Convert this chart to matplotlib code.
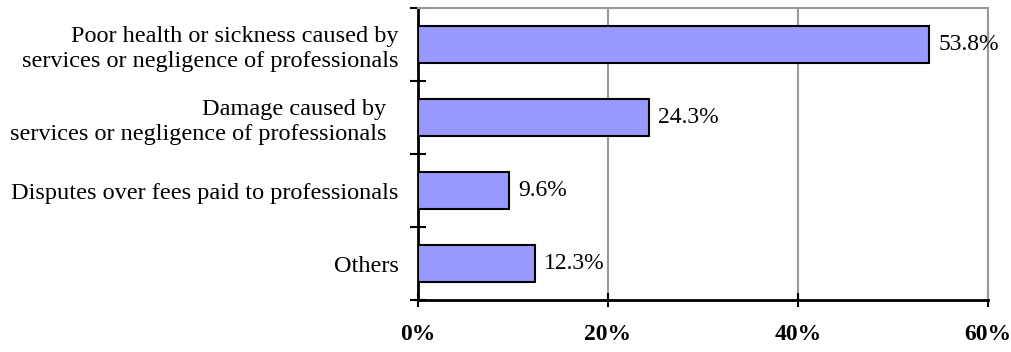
import matplotlib.pyplot as plt
import numpy as np
from matplotlib.ticker import FixedLocator, FuncFormatter

plt.rcParams['font.family'] = ['Liberation Serif', 'DejaVu Serif']

# Datos del grafico
categorias = [
    'Poor health or sickness caused by\nservices or negligence of professionals',
    'Damage caused by  \nservices or negligence of professionals  ',
    'Disputes over fees paid to professionals',
    'Others',
]
valores = [53.8, 24.3, 9.6, 12.3]
xticks = [0, 20, 40, 60]

fig = plt.figure(figsize=(10.11, 3.52), dpi=100)
ax = fig.add_axes([418 / 1011, 1 - 300 / 352, 570 / 1011, 292 / 352])

y = np.arange(len(categorias))
ax.barh(y, valores, height=0.5, color='#9999FF', edgecolor='black', linewidth=1.5, zorder=3)

for yi, v in zip(y, valores):
    ax.text(v + 1.0, yi, f'{v:.1f}%', va='center', ha='left', fontsize=17, zorder=4)

ax.set_xlim(0, 60)
ax.set_ylim(len(categorias) - 0.5, -0.5)

# ejes
ax.set_yticks(y)
ax.set_yticklabels(categorias, fontsize=17.5, linespacing=1.24)
ax.tick_params(axis='y', which='major', length=0, pad=14)
ax.yaxis.set_minor_locator(FixedLocator(np.arange(-0.5, len(categorias), 1)))
ax.tick_params(axis='y', which='minor', length=12, width=1.5, direction='inout')

ax.set_xticks(xticks)
ax.xaxis.set_major_formatter(FuncFormatter(lambda x, pos: f'{x:.0f}%'))
ax.tick_params(axis='x', which='major', length=10, width=1.5, direction='inout', pad=12)
for lbl in ax.get_xticklabels():
    lbl.set_fontweight('bold')
    lbl.set_fontsize(17)

ax.grid(axis='x', color='#999999', linewidth=1.5, zorder=0)
ax.spines['left'].set_linewidth(2)
ax.spines['bottom'].set_linewidth(2)
ax.spines['top'].set_color('#999999')
ax.spines['right'].set_color('#999999')
ax.spines['top'].set_linewidth(1.5)
ax.spines['right'].set_linewidth(1.5)

plt.savefig('out.png', dpi=100)
